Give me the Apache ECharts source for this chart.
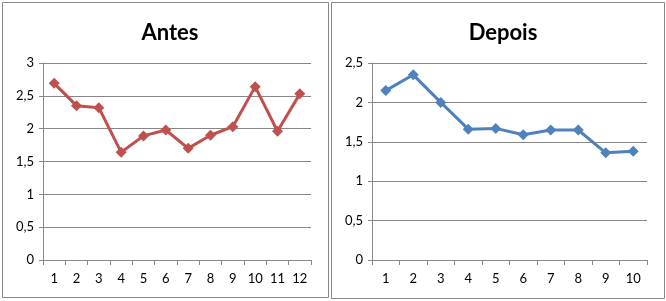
<!DOCTYPE html>
<html>
<head>
<meta charset="utf-8">
<script src="https://cdn.jsdelivr.net/npm/echarts@6/dist/echarts.min.js"></script>
<style>
html,body{margin:0;padding:0;background:#fff;}
#c{width:666px;height:301px;}
</style>
</head>
<body>
<div id="c"></div>
<script>
const antesTitle = "Antes";
const depoisTitle = "Depois";
const antesCategories = ["1","2","3","4","5","6","7","8","9","10","11","12"];
const antesValues = [2.69, 2.35, 2.32, 1.64, 1.89, 1.98, 1.70, 1.90, 2.03, 2.64, 1.96, 2.53];
const depoisCategories = ["1","2","3","4","5","6","7","8","9","10"];
const depoisValues = [2.15, 2.35, 2.00, 1.66, 1.67, 1.59, 1.65, 1.65, 1.36, 1.38];
const antesMax = 3;
const depoisMax = 2.5;
const tickStep = 0.5;

const FONT = "Lato";
const gray = "#878787";
const fmt = v => String(v).replace(".", ",");

function xAx(gi, cats) {
  return {
    gridIndex: gi, type: "category", data: cats, boundaryGap: true,
    axisLine: {show: true, lineStyle: {color: gray, width: 1}},
    axisTick: {show: true, length: 5, inside: false, lineStyle: {color: gray}},
    axisLabel: {color: "#000", fontFamily: FONT, fontSize: 13, margin: 12}
  };
}
function yAx(gi, max) {
  return {
    gridIndex: gi, type: "value", min: 0, max: max, interval: tickStep,
    axisLine: {show: true, lineStyle: {color: gray, width: 1}},
    axisTick: {show: true, length: 4, lineStyle: {color: gray}},
    splitLine: {show: true, lineStyle: {color: gray, width: 1}},
    axisLabel: {color: "#000", fontFamily: FONT, fontSize: 13, margin: 9, formatter: fmt}
  };
}

const chart = echarts.init(document.getElementById("c"), null, {renderer: "canvas"});
chart.setOption({
  animation: false,
  backgroundColor: "#fff",
  graphic: [
    {type: "rect", shape: {x: 2.5, y: 2.5, width: 326, height: 295}, style: {fill: "none", stroke: gray, lineWidth: 1}, silent: true, z: -1},
    {type: "rect", shape: {x: 331.5, y: 2.5, width: 333, height: 296}, style: {fill: "none", stroke: gray, lineWidth: 1}, silent: true, z: -1}
  ],
  title: [
    {text: antesTitle, left: 165, top: 17, textAlign: "center",
     textStyle: {fontFamily: FONT, fontWeight: "bold", fontSize: 22, color: "#000"}},
    {text: depoisTitle, left: 498, top: 17, textAlign: "center",
     textStyle: {fontFamily: FONT, fontWeight: "bold", fontSize: 22, color: "#000"}}
  ],
  grid: [
    {left: 43, top: 63, width: 268, height: 197},
    {left: 372, top: 63, width: 275, height: 197}
  ],
  xAxis: [xAx(0, antesCategories), xAx(1, depoisCategories)],
  yAxis: [yAx(0, antesMax), yAx(1, depoisMax)],
  series: [
    {type: "line", xAxisIndex: 0, yAxisIndex: 0, data: antesValues,
     symbol: "diamond", symbolSize: 11, showAllSymbol: true,
     lineStyle: {color: "#C0504D", width: 3}, itemStyle: {color: "#C0504D"}},
    {type: "line", xAxisIndex: 1, yAxisIndex: 1, data: depoisValues,
     symbol: "diamond", symbolSize: 11, showAllSymbol: true,
     lineStyle: {color: "#4F81BD", width: 3}, itemStyle: {color: "#4F81BD"}}
  ]
});
</script>
</body>
</html>
